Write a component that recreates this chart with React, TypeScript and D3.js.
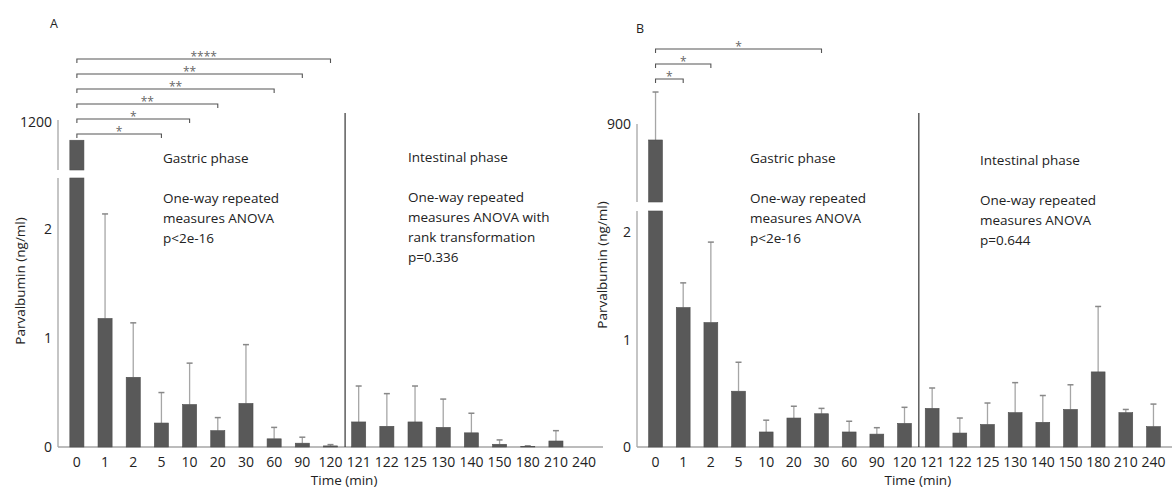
import React, { useEffect, useRef } from 'react';
import * as d3 from 'd3';

// time points (min), first 10 = gastric phase, rest = intestinal phase
const timeLabels = ['0', '1', '2', '5', '10', '20', '30', '60', '90', '120', '121', '122', '125', '130', '140', '150', '180', '210', '240'];
const lastGastric = '120';
const firstIntestinal = '121';

// Panel A: mean and upper SD (ng/ml); value at t=0 is on the upper (broken) part of the axis
const meansA = [1125, 1.18, 0.64, 0.22, 0.39, 0.15, 0.4, 0.075, 0.035, 0.01, 0.23, 0.19, 0.23, 0.18, 0.13, 0.025, 0.005, 0.055, 0];
const sdA = [0, 0.96, 0.5, 0.28, 0.38, 0.12, 0.54, 0.105, 0.055, 0.012, 0.33, 0.3, 0.33, 0.26, 0.18, 0.04, 0.006, 0.095, 0];

// Panel B
const meansB = [818, 1.3, 1.16, 0.52, 0.14, 0.27, 0.31, 0.14, 0.12, 0.22, 0.36, 0.13, 0.21, 0.32, 0.23, 0.35, 0.7, 0.32, 0.19];
const sdB = [246, 0.23, 0.75, 0.27, 0.11, 0.11, 0.05, 0.1, 0.06, 0.15, 0.19, 0.14, 0.2, 0.28, 0.25, 0.23, 0.61, 0.03, 0.21];

// significance brackets vs t=0
const pairsA = ['5', '10', '20', '60', '90', '120'];
const starsA = ['*', '*', '**', '**', '**', '****'];
const pairsB = ['1', '2', '30'];
const starsB = ['*', '*', '*'];

const lowerTicks = [0, 1, 2];
const upperTickA = [1200];
const upperTickB = [900];

const gastricTextA = ['Gastric phase', '', 'One-way repeated', 'measures ANOVA', 'p<2e-16'];
const intestinalTextA = ['Intestinal phase', '', 'One-way repeated', 'measures ANOVA with', 'rank transformation', 'p=0.336'];
const gastricTextB = ['Gastric phase', '', 'One-way repeated', 'measures ANOVA', 'p<2e-16'];
const intestinalTextB = ['Intestinal phase', '', 'One-way repeated', 'measures ANOVA', 'p=0.644'];

const FONT = '"Open Sans", sans-serif';
const BAR = '#595959';
const GREY = '#a6a6a6';

const panels = [
  {
    label: 'A', labelX: 50, labelY: 28,
    left: 58, right: 603, baseY: 447,
    lowerMax: 2.47, lowerTop: 178,
    upperDomain: [1000, 1210], upperRange: [170, 120], upperTicks: upperTickA,
    means: meansA, sd: sdA, pairs: pairsA, stars: starsA, bracketBase: 134,
    yTitleX: 20, yTitleY: 281,
    gastric: gastricTextA, gastricX: 163, gastricY: 163,
    intestinal: intestinalTextA, intestinalX: 408, intestinalY: 162,
  },
  {
    label: 'B', labelX: 636, labelY: 33,
    left: 637, right: 1172, baseY: 447,
    lowerMax: 2.2, lowerTop: 211,
    upperDomain: [500, 900], upperRange: [202, 124], upperTicks: upperTickB,
    means: meansB, sd: sdB, pairs: pairsB, stars: starsB, bracketBase: 79,
    yTitleX: 602, yTitleY: 265,
    gastric: gastricTextB, gastricX: 750, gastricY: 163,
    intestinal: intestinalTextB, intestinalX: 980, intestinalY: 165,
  },
];

const App = () => {
  const svgRef = useRef<SVGSVGElement>(null);

  useEffect(() => {
    const svg = d3.select(svgRef.current);
    svg.selectAll('*').remove();

    panels.forEach(p => {
      const g = svg.append('g');

      const x = d3.scaleBand<string>()
        .domain(timeLabels)
        .range([p.left, p.right])
        .paddingInner(0.5)
        .paddingOuter(0.42);
      const cx = (t: string) => (x(t) as number) + x.bandwidth() / 2;

      const yLow = d3.scaleLinear().domain([0, p.lowerMax]).range([p.baseY, p.lowerTop]);
      const yUp = d3.scaleLinear().domain(p.upperDomain).range(p.upperRange);

      // y axis, broken in two segments
      g.append('line')
        .attr('x1', p.left).attr('x2', p.left)
        .attr('y1', p.baseY).attr('y2', p.lowerTop)
        .attr('stroke', GREY).attr('stroke-width', 1.3);
      g.append('line')
        .attr('x1', p.left).attr('x2', p.left)
        .attr('y1', p.upperRange[0]).attr('y2', p.upperRange[1])
        .attr('stroke', GREY).attr('stroke-width', 1.3);

      // y tick labels
      const tickText = (sel: any) => sel
        .attr('x', p.left - 6)
        .attr('text-anchor', 'end')
        .attr('dy', '0.35em')
        .attr('font-family', FONT)
        .attr('font-size', 14)
        .attr('fill', '#222');
      g.selectAll('.ylow')
        .data(lowerTicks)
        .join('text')
        .attr('y', d => yLow(d))
        .text(d => d)
        .call(tickText);
      g.selectAll('.yup')
        .data(p.upperTicks)
        .join('text')
        .attr('y', d => yUp(d))
        .text(d => d)
        .call(tickText);

      // baseline
      g.append('line')
        .attr('x1', p.left).attr('x2', p.right)
        .attr('y1', p.baseY).attr('y2', p.baseY)
        .attr('stroke', GREY).attr('stroke-width', 1.3);

      // error bars
      const errs = timeLabels.map((t, i) => {
        const broken = i === 0;
        const s = broken ? yUp : yLow;
        return { t, y0: s(p.means[i]), y1: s(p.means[i] + p.sd[i]), sd: p.sd[i] };
      }).filter(d => d.sd > 0);

      g.selectAll('.err')
        .data(errs)
        .join('line')
        .attr('x1', d => cx(d.t)).attr('x2', d => cx(d.t))
        .attr('y1', d => d.y0).attr('y2', d => d.y1)
        .attr('stroke', GREY).attr('stroke-width', 1.3);
      g.selectAll('.cap')
        .data(errs)
        .join('line')
        .attr('x1', d => cx(d.t) - 3).attr('x2', d => cx(d.t) + 3)
        .attr('y1', d => d.y1).attr('y2', d => d.y1)
        .attr('stroke', '#888').attr('stroke-width', 1.5);

      // bars
      g.selectAll('.bar')
        .data(timeLabels)
        .join('rect')
        .attr('x', d => x(d) as number)
        .attr('width', x.bandwidth())
        .attr('y', (d, i) => (i === 0 ? p.lowerTop : yLow(p.means[i])))
        .attr('height', (d, i) => p.baseY - (i === 0 ? p.lowerTop : yLow(p.means[i])))
        .attr('fill', BAR)
        .attr('stroke', '#4d4d4d')
        .attr('stroke-width', 0.6);
      // upper part of the broken bar
      g.append('rect')
        .attr('x', x(timeLabels[0]) as number)
        .attr('width', x.bandwidth())
        .attr('y', yUp(p.means[0]))
        .attr('height', p.upperRange[0] - yUp(p.means[0]))
        .attr('fill', BAR)
        .attr('stroke', '#4d4d4d')
        .attr('stroke-width', 0.6);

      // x tick labels
      g.selectAll('.xlab')
        .data(timeLabels)
        .join('text')
        .attr('x', d => cx(d))
        .attr('y', p.baseY + 20)
        .attr('text-anchor', 'middle')
        .attr('font-family', FONT)
        .attr('font-size', 14)
        .attr('fill', '#222')
        .text(d => d);

      // phase divider
      const divX = (cx(lastGastric) + cx(firstIntestinal)) / 2 + 0.5;
      g.append('line')
        .attr('x1', divX).attr('x2', divX)
        .attr('y1', 113).attr('y2', p.baseY)
        .attr('stroke', '#333').attr('stroke-width', 1.2);

      // x title
      g.append('text')
        .attr('x', divX - 1)
        .attr('y', 485)
        .attr('text-anchor', 'middle')
        .attr('font-family', FONT)
        .attr('font-size', 13.5)
        .attr('fill', '#222')
        .text('Time (min)');

      // y title
      g.append('text')
        .attr('transform', `translate(${p.yTitleX},${p.yTitleY}) rotate(-90)`)
        .attr('text-anchor', 'middle')
        .attr('dy', '0.35em')
        .attr('font-family', FONT)
        .attr('font-size', 13.5)
        .attr('fill', '#222')
        .text('Parvalbumin (ng/ml)');

      // panel letter
      g.append('text')
        .attr('x', p.labelX).attr('y', p.labelY)
        .attr('font-family', FONT)
        .attr('font-size', 12.5)
        .attr('fill', '#222')
        .text(p.label);

      // significance brackets
      const x0 = cx(timeLabels[0]);
      p.pairs.forEach((t, i) => {
        const by = p.bracketBase - i * 15;
        const x1 = cx(t);
        g.append('path')
          .attr('d', `M${x0},${by + 4}V${by}H${x1}V${by + 4}`)
          .attr('fill', 'none')
          .attr('stroke', '#555')
          .attr('stroke-width', 1.1);
        g.append('text')
          .attr('x', (x0 + x1) / 2)
          .attr('y', by + 1.5)
          .attr('text-anchor', 'middle')
          .attr('font-family', FONT)
          .attr('font-size', 12)
          .attr('fill', '#666')
          .text(p.stars[i]);
      });

      // annotations
      const annot = (lines: string[], ax: number, ay: number) => {
        lines.forEach((s, k) => {
          g.append('text')
            .attr('x', ax)
            .attr('y', ay + k * 20)
            .attr('font-family', FONT)
            .attr('font-size', 13.5)
            .attr('fill', '#222')
            .text(s);
        });
      };
      annot(p.gastric, p.gastricX, p.gastricY);
      annot(p.intestinal, p.intestinalX, p.intestinalY);
    });
  }, []);

  return (
    <svg
      ref={svgRef}
      width={1172}
      height={490}
      style={{ position: 'absolute', left: 0, top: 0, background: '#fff' }}
    />
  );
};

export default App;
